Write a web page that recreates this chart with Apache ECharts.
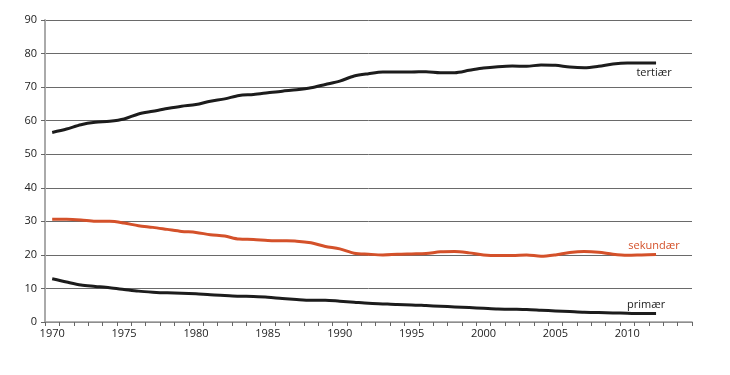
<!DOCTYPE html>
<html><head><meta charset="utf-8">
<script src="https://cdn.jsdelivr.net/npm/echarts@6/dist/echarts.min.js"></script>
<style>html,body{margin:0;padding:0;background:#fff}#c{width:730px;height:375px}</style>
</head><body><div id="c"></div>
<script>
var years = [];
for (var y = 1970; y <= 2014; y++) years.push(String(y));
var tertiaer = [56.5, 57.5, 58.8, 59.5, 59.8, 60.5, 62.0, 62.8, 63.6, 64.3, 64.8, 65.8, 66.5, 67.5, 67.8, 68.3, 68.8, 69.2, 69.8, 70.8, 71.8, 73.3, 74.0, 74.5, 74.5, 74.5, 74.6, 74.3, 74.3, 75.0, 75.7, 76.1, 76.3, 76.2, 76.6, 76.5, 76.0, 75.8, 76.2, 76.9, 77.2, 77.2, 77.2];
var sekundaer = [30.6, 30.6, 30.4, 30.0, 30.0, 29.5, 28.7, 28.2, 27.6, 27.0, 26.7, 26.0, 25.6, 24.7, 24.6, 24.3, 24.2, 24.1, 23.6, 22.5, 21.8, 20.5, 20.2, 20.0, 20.2, 20.3, 20.4, 20.9, 21.0, 20.6, 20.0, 19.8, 19.8, 20.0, 19.6, 20.0, 20.7, 21.0, 20.8, 20.2, 19.9, 20.0, 20.1];
var primaer = [12.9, 11.9, 11.0, 10.6, 10.2, 9.7, 9.2, 8.9, 8.7, 8.6, 8.4, 8.1, 7.9, 7.7, 7.6, 7.4, 7.0, 6.7, 6.5, 6.5, 6.2, 5.9, 5.6, 5.4, 5.2, 5.1, 4.9, 4.7, 4.5, 4.3, 4.1, 3.9, 3.8, 3.7, 3.5, 3.3, 3.1, 2.9, 2.8, 2.7, 2.6, 2.5, 2.5];
var names = ['tertiær', 'sekundær', 'primær'];
var yTicks = [0, 10, 20, 30, 40, 50, 60, 70, 80, 90];

var FONT = '"Open Sans", "Noto Sans", sans-serif';
function endLabel(text, color, off) {
  return { show: true, formatter: text, color: color, fontSize: 11, fontFamily: FONT,
    distance: 0, align: 'center', verticalAlign: 'middle', offset: off };
}
function lineSeries(name, data, color, labelColor, off) {
  return { name: name, type: 'line', data: data, smooth: 0.3, showSymbol: false, symbol: 'none',
    lineStyle: { color: color, width: 3 }, itemStyle: { color: color },
    endLabel: endLabel(name, labelColor, off) };
}
var chart = echarts.init(document.getElementById('c'), null, { renderer: 'canvas' });
chart.setOption({
  animation: false,
  grid: { left: 45, right: 38, top: 20, bottom: 53, containLabel: false },
  xAxis: {
    type: 'category', data: years, boundaryGap: true,
    axisLine: { lineStyle: { color: '#9a9a9a', width: 1.5 } },
    axisTick: { show: true, interval: 0, length: 4, lineStyle: { color: '#666' } },
    axisLabel: { interval: 4, color: '#222', fontSize: 11, fontFamily: FONT, margin: 6 },
    splitLine: { show: false }
  },
  yAxis: {
    type: 'value', min: 0, max: 90, interval: 10,
    axisLine: { show: true, lineStyle: { color: '#aaa', width: 2 } },
    axisTick: { show: true, length: 4, inside: false, lineStyle: { color: '#666' } },
    axisLabel: { color: '#222', fontSize: 11, fontFamily: FONT, margin: 8,
      formatter: function (v) { return yTicks.indexOf(v) >= 0 ? String(v) : ''; } },
    splitLine: { show: true, lineStyle: { color: '#6a6a6a', width: 1 } }
  },
  series: [
    lineSeries(names[0], tertiaer, '#1c1c1c', '#222', [-2, 10]),
    lineSeries(names[1], sekundaer, '#d4512a', '#d4512a', [-2, -9]),
    lineSeries(names[2], primaer, '#1c1c1c', '#222', [-10, -9])
  ]
});
</script></body></html>
